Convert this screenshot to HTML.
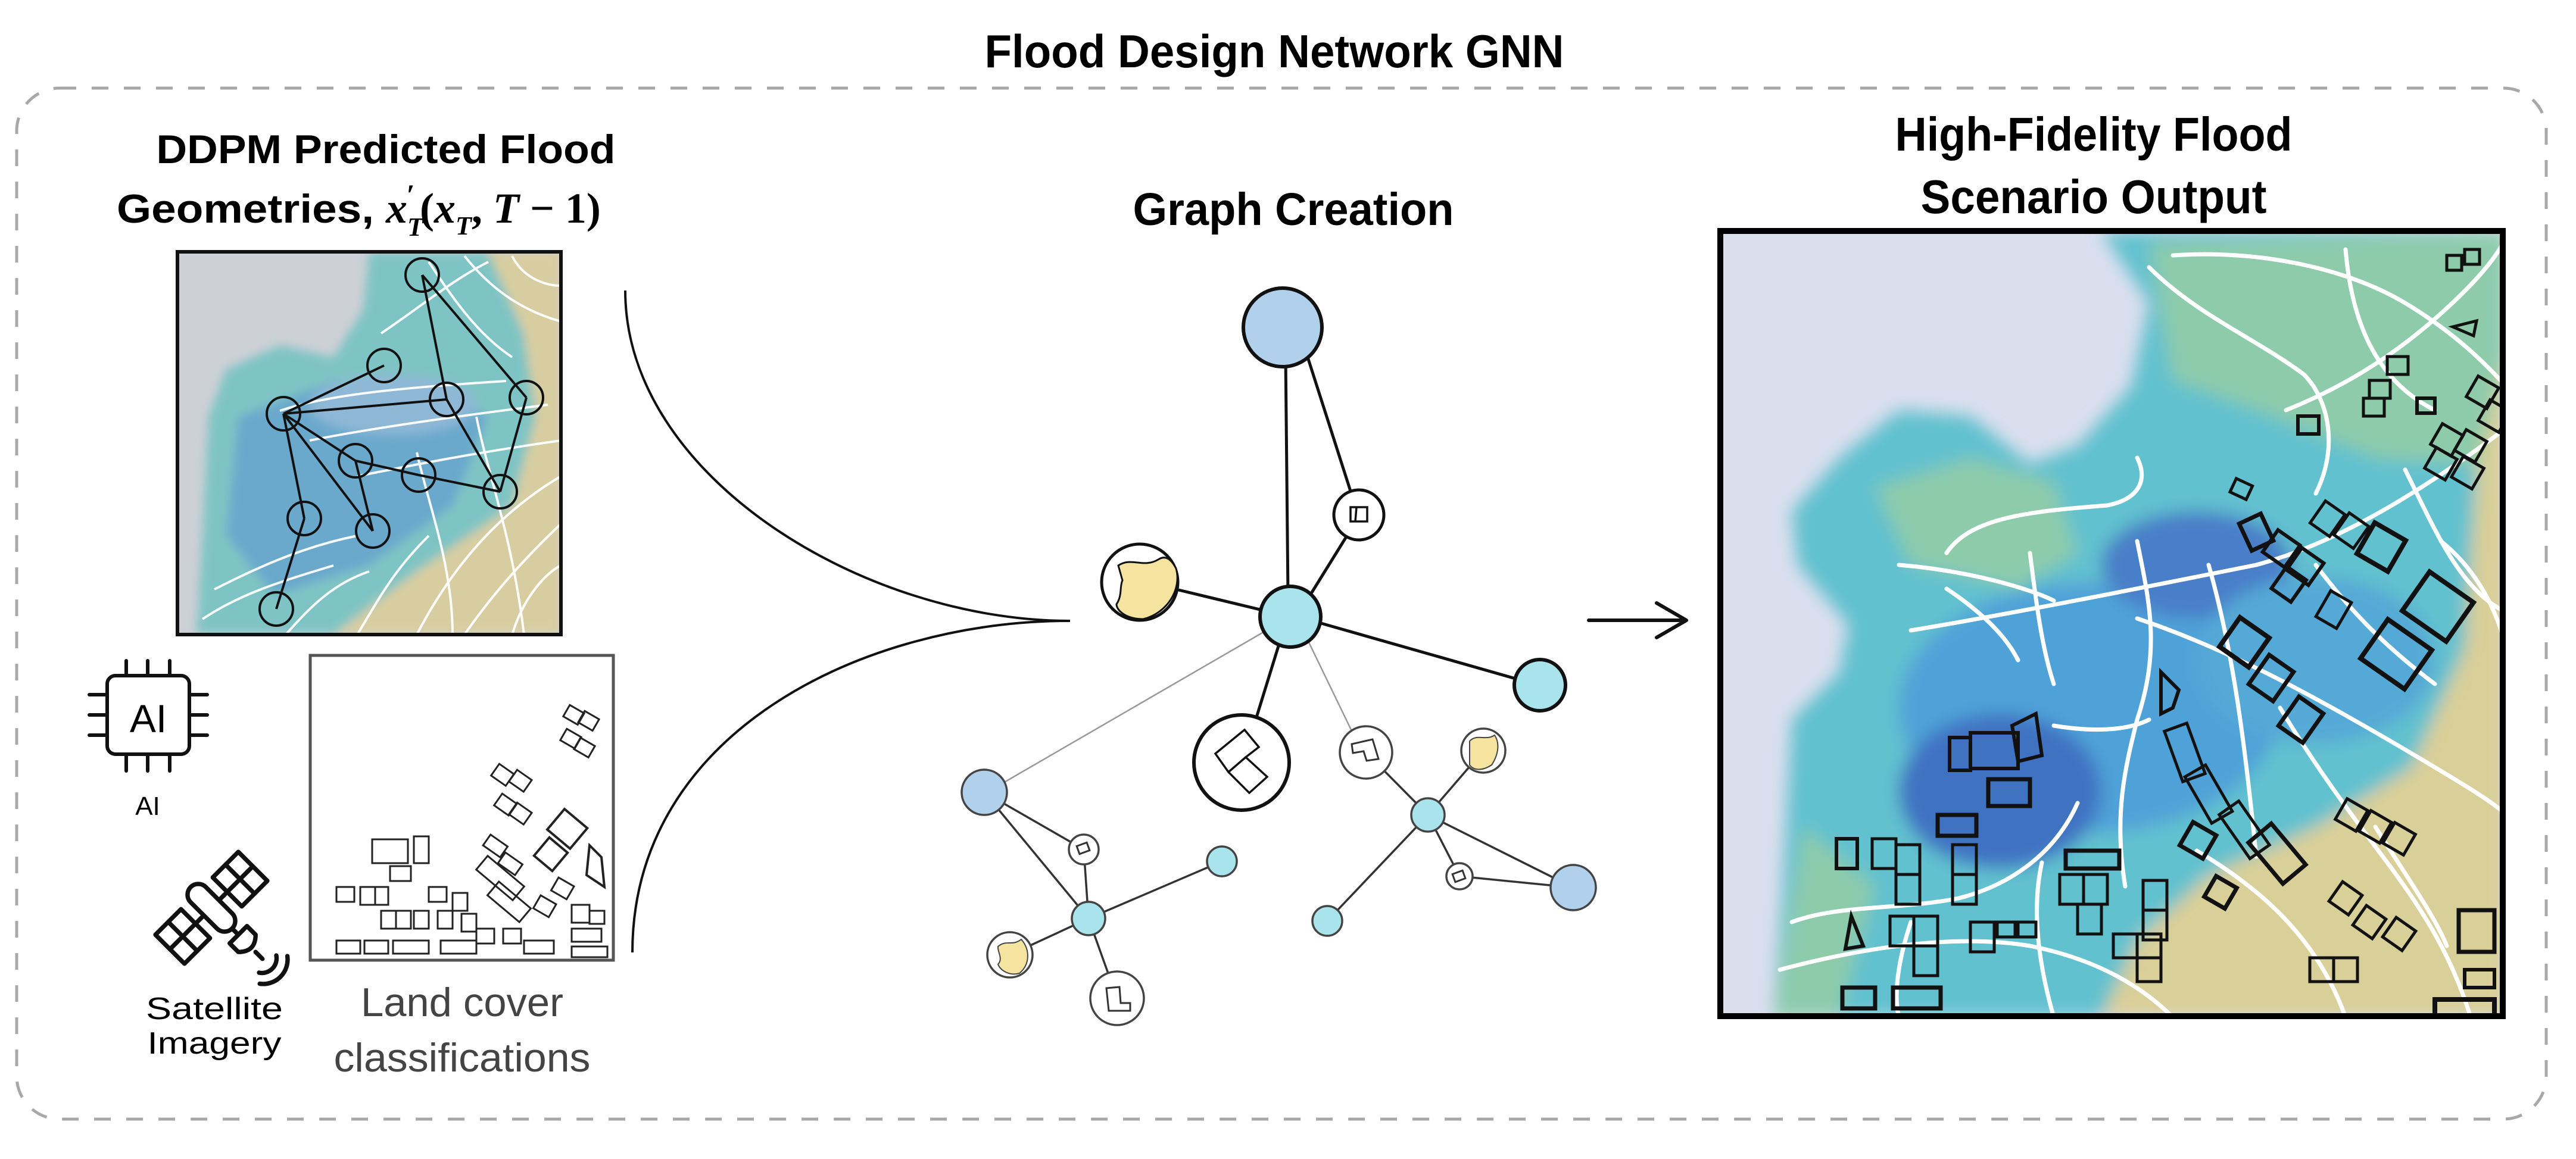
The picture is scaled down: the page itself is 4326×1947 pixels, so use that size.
<!DOCTYPE html>
<html><head><meta charset="utf-8"><style>
html,body{margin:0;padding:0;background:#fff;}
svg{display:block;}
text{font-family:"Liberation Sans",sans-serif;}
</style></head><body>
<svg width="4326" height="1947" viewBox="0 0 4326 1947" xmlns="http://www.w3.org/2000/svg">
<defs>
<filter id="bl" x="-10%" y="-10%" width="120%" height="120%"><feGaussianBlur stdDeviation="14"/></filter>
<filter id="bl2" x="-10%" y="-10%" width="120%" height="120%"><feGaussianBlur stdDeviation="8"/></filter>
<clipPath id="cl"><rect x="298" y="423" width="644" height="643"/></clipPath>
<clipPath id="cr"><rect x="2889" y="389" width="1314" height="1318"/></clipPath>
</defs>

<text x="2140" y="113" font-size="78" font-weight="bold" text-anchor="middle" textLength="973" lengthAdjust="spacingAndGlyphs">Flood Design Network GNN</text>
<rect x="28" y="148" width="4248" height="1732" rx="72" ry="72" fill="none" stroke="#a8a8a8" stroke-width="5" stroke-dasharray="28 26"/>

<text x="648" y="274" font-size="68" font-weight="bold" text-anchor="middle" textLength="771" lengthAdjust="spacingAndGlyphs">DDPM Predicted Flood</text>
<text x="196" y="374" font-size="68" font-weight="bold" textLength="432" lengthAdjust="spacingAndGlyphs">Geometries,</text>
<text x="648" y="374" font-size="72" font-weight="bold" font-style="italic" style="font-family:'Liberation Serif',serif">x<tspan font-size="44" dy="22">T</tspan><tspan font-size="50" dx="-28" dy="-52" font-style="normal">′</tspan><tspan dx="8" dy="30" font-style="normal">(</tspan>x<tspan font-size="44" dy="20">T</tspan><tspan dy="-20" font-style="normal">, </tspan>T<tspan font-style="normal"> − 1)</tspan></text>

<g clip-path="url(#cl)">
<rect x="298" y="423" width="644" height="643" fill="#cdd0d7"/>
<g filter="url(#bl2)">
<polygon points="620,423 942,423 942,1066 330,1066 340,900 350,700 380,620 470,580 560,600 610,520" fill="#7fc4c4"/>
<polygon points="400,700 560,640 700,640 820,700 760,850 620,950 460,1000 380,900" fill="#6aa9cc"/>
<polygon points="820,423 942,423 942,1066 560,1066 700,960 860,850 900,700 880,560" fill="#d8cda0"/>
<ellipse cx="660" cy="680" rx="140" ry="50" fill="#8fb7d6"/>
</g>
<g fill="none" stroke="#fff" stroke-width="4" opacity="0.95">
<path d="M470,690 C560,660 700,650 850,640"/><path d="M520,740 C620,720 760,700 920,680"/>
<path d="M600,800 C700,780 800,760 942,740"/><path d="M700,1066 C760,950 840,860 942,800"/>
<path d="M780,1066 C840,980 900,920 942,880"/><path d="M860,1066 C880,1000 920,960 942,950"/>
<path d="M720,440 C760,500 800,560 860,600"/><path d="M780,430 C820,480 870,520 942,540"/>
<path d="M860,430 C880,470 920,480 942,480"/><path d="M640,560 C700,520 760,470 820,440"/>
<path d="M340,1040 C400,1000 460,980 560,950"/><path d="M360,990 C420,960 500,920 600,900"/>
<path d="M600,1066 C640,1000 660,960 720,900"/><path d="M480,1066 C520,1020 560,980 620,960"/>
<path d="M800,700 C820,800 860,900 880,1066"/><path d="M700,760 C720,850 760,950 760,1066"/>
</g>
<g fill="none" stroke="#111" stroke-width="4">
<line x1="709" y1="462" x2="750" y2="671"/><line x1="709" y1="462" x2="884" y2="668"/>
<line x1="645" y1="614" x2="476" y2="695"/><line x1="476" y1="695" x2="750" y2="671"/>
<line x1="476" y1="695" x2="511" y2="871"/><line x1="476" y1="695" x2="626" y2="892"/>
<line x1="476" y1="695" x2="597" y2="774"/><line x1="597" y1="774" x2="626" y2="892"/>
<line x1="597" y1="774" x2="703" y2="798"/><line x1="703" y1="798" x2="840" y2="826"/>
<line x1="750" y1="671" x2="840" y2="826"/><line x1="884" y1="668" x2="840" y2="826"/>
<line x1="511" y1="871" x2="464" y2="1023"/>
<circle cx="709" cy="462" r="28"/><circle cx="645" cy="614" r="28"/><circle cx="476" cy="695" r="28"/>
<circle cx="750" cy="671" r="28"/><circle cx="884" cy="668" r="28"/><circle cx="597" cy="774" r="28"/>
<circle cx="703" cy="798" r="28"/><circle cx="840" cy="826" r="28"/><circle cx="511" cy="871" r="28"/>
<circle cx="626" cy="892" r="28"/><circle cx="464" cy="1023" r="28"/>
</g>
</g>
<rect x="298" y="423" width="644" height="643" fill="none" stroke="#111" stroke-width="6"/>

<g fill="none" stroke="#111" stroke-width="6" stroke-linecap="round">
<rect x="180" y="1135" width="138" height="132" rx="14"/>
<line x1="212" y1="1110" x2="212" y2="1135"/><line x1="248" y1="1110" x2="248" y2="1135"/><line x1="285" y1="1110" x2="285" y2="1135"/>
<line x1="212" y1="1267" x2="212" y2="1295"/><line x1="248" y1="1267" x2="248" y2="1295"/><line x1="285" y1="1267" x2="285" y2="1295"/>
<line x1="150" y1="1167" x2="180" y2="1167"/><line x1="150" y1="1201" x2="180" y2="1201"/><line x1="150" y1="1235" x2="180" y2="1235"/>
<line x1="318" y1="1167" x2="348" y2="1167"/><line x1="318" y1="1201" x2="348" y2="1201"/><line x1="318" y1="1235" x2="348" y2="1235"/>
</g>
<text x="249" y="1230" font-size="66" text-anchor="middle">AI</text>
<text x="248" y="1369" font-size="44" text-anchor="middle">AI</text>

<g transform="translate(355,1525) scale(0.82) translate(-342,-1520)">
<g fill="none" stroke="#111" stroke-width="9" stroke-linejoin="round" stroke-linecap="round" transform="rotate(45 342 1520)">
<rect x="300" y="1400" width="84" height="74"/><line x1="342" y1="1400" x2="342" y2="1474"/><line x1="300" y1="1437" x2="384" y2="1437"/>
<rect x="300" y="1566" width="84" height="74"/><line x1="342" y1="1566" x2="342" y2="1640"/><line x1="300" y1="1603" x2="384" y2="1603"/>
<line x1="342" y1="1474" x2="342" y2="1498"/><line x1="342" y1="1542" x2="342" y2="1566"/>
<rect x="282" y="1498" width="120" height="44" rx="22"/>
<line x1="402" y1="1520" x2="420" y2="1520"/>
<path d="M420,1495 L445,1495 Q470,1520 445,1545 L420,1545 Z"/>
<line x1="470" y1="1520" x2="490" y2="1520"/>
<path d="M505,1495 a30,30 0 0 1 0,50"/><path d="M522,1480 a50,50 0 0 1 0,80"/>
</g>
</g>
<text x="360" y="1712" font-size="52" text-anchor="middle" textLength="230" lengthAdjust="spacingAndGlyphs">Satellite</text>
<text x="360" y="1770" font-size="52" text-anchor="middle" textLength="225" lengthAdjust="spacingAndGlyphs">Imagery</text>

<rect x="521" y="1101" width="509" height="512" fill="#fff" stroke="#555" stroke-width="5"/>
<g fill="none" stroke="#222" stroke-width="3">
<rect x="950" y="1190" width="28" height="22" transform="rotate(30 964 1200)"/><rect x="975" y="1200" width="28" height="22" transform="rotate(30 989 1210)"/>
<rect x="945" y="1230" width="28" height="22" transform="rotate(30 959 1240)"/><rect x="968" y="1245" width="28" height="22" transform="rotate(30 982 1255)"/>
<rect x="830" y="1290" width="30" height="24" transform="rotate(35 845 1300)"/><rect x="860" y="1300" width="30" height="24" transform="rotate(35 875 1310)"/>
<rect x="835" y="1340" width="30" height="24" transform="rotate(35 850 1350)"/><rect x="860" y="1355" width="30" height="24" transform="rotate(35 875 1365)"/>
<rect x="928" y="1370" width="50" height="45" stroke-width="4" transform="rotate(40 953 1392)"/><rect x="905" y="1415" width="40" height="40" stroke-width="4" transform="rotate(40 925 1435)"/>
<polygon points="990,1420 1010,1440 1015,1490 985,1470" stroke-width="4"/>
<rect x="815" y="1410" width="35" height="22" transform="rotate(35 832 1420)"/><rect x="840" y="1440" width="35" height="22" transform="rotate(35 857 1450)"/>
<rect x="800" y="1460" width="80" height="30" transform="rotate(40 840 1475)"/><rect x="820" y="1500" width="70" height="30" transform="rotate(40 855 1515)"/>
<rect x="625" y="1410" width="60" height="40"/><rect x="695" y="1405" width="25" height="45"/><rect x="655" y="1455" width="35" height="25"/>
<rect x="565" y="1490" width="30" height="25"/><rect x="605" y="1490" width="25" height="30"/><rect x="630" y="1490" width="22" height="30"/>
<rect x="640" y="1530" width="25" height="30"/><rect x="665" y="1530" width="25" height="30"/><rect x="695" y="1530" width="25" height="30"/>
<rect x="720" y="1490" width="30" height="25"/><rect x="735" y="1530" width="25" height="30"/><rect x="760" y="1500" width="25" height="30"/>
<rect x="775" y="1535" width="25" height="30"/><rect x="800" y="1560" width="30" height="25"/><rect x="845" y="1560" width="30" height="25"/>
<rect x="565" y="1580" width="40" height="22"/><rect x="612" y="1580" width="40" height="22"/><rect x="660" y="1580" width="60" height="22"/>
<rect x="740" y="1580" width="60" height="22"/><rect x="880" y="1580" width="50" height="22"/><rect x="960" y="1560" width="50" height="22"/>
<rect x="960" y="1520" width="30" height="30"/><rect x="990" y="1530" width="25" height="22"/><rect x="960" y="1590" width="60" height="18"/>
<rect x="900" y="1510" width="30" height="25" transform="rotate(30 915 1522)"/><rect x="930" y="1480" width="30" height="25" transform="rotate(30 945 1492)"/>
</g>
<text x="776" y="1707" font-size="68" fill="#444" text-anchor="middle" textLength="340" lengthAdjust="spacingAndGlyphs">Land cover</text>
<text x="776" y="1800" font-size="68" fill="#444" text-anchor="middle" textLength="431" lengthAdjust="spacingAndGlyphs">classifications</text>

<path d="M1050,488 C1050,800 1450,1043 1797,1043" fill="none" stroke="#111" stroke-width="4"/>
<path d="M1797,1043 C1450,1043 1062,1230 1062,1600" fill="none" stroke="#111" stroke-width="4"/>

<text x="2172" y="378" font-size="77" font-weight="bold" text-anchor="middle" textLength="539" lengthAdjust="spacingAndGlyphs">Graph Creation</text>
<g stroke="#111" stroke-width="5" fill="none">
<line x1="2159" y1="600" x2="2163" y2="1000"/><line x1="2196" y1="600" x2="2268" y2="825"/>
<line x1="2262" y1="900" x2="2200" y2="1000"/><line x1="1975" y1="990" x2="2120" y2="1025"/>
<line x1="2215" y1="1046" x2="2545" y2="1140"/><line x1="2148" y1="1082" x2="2110" y2="1205"/>
</g>
<g stroke="#999" stroke-width="2.5"><line x1="2125" y1="1060" x2="1685" y2="1315"/><line x1="2196" y1="1075" x2="2270" y2="1228"/></g>
<g stroke="#333" stroke-width="3.5">
<line x1="1653" y1="1331" x2="1820" y2="1427"/><line x1="1653" y1="1331" x2="1828" y2="1543"/><line x1="1820" y1="1427" x2="1828" y2="1543"/>
<line x1="1828" y1="1543" x2="2052" y2="1447"/><line x1="1828" y1="1543" x2="1696" y2="1604"/><line x1="1828" y1="1543" x2="1876" y2="1677"/>
<line x1="2294" y1="1264" x2="2398" y2="1369"/><line x1="2491" y1="1261" x2="2398" y2="1369"/><line x1="2398" y1="1369" x2="2451" y2="1472"/>
<line x1="2451" y1="1472" x2="2642" y2="1491"/><line x1="2398" y1="1369" x2="2642" y2="1491"/><line x1="2398" y1="1369" x2="2229" y2="1547"/>
</g>
<g stroke="#111" stroke-width="6">
<circle cx="2154" cy="550" r="66" fill="#b0d0ec"/>
<circle cx="2282" cy="865" r="42" fill="#fff" stroke-width="5"/>
<circle cx="1914" cy="978" r="64" fill="#fff" stroke-width="5"/>
<circle cx="2167" cy="1036" r="51" fill="#a9e3ec"/>
<circle cx="2586" cy="1151" r="43" fill="#a9e3ec"/>
<circle cx="2085" cy="1281" r="80" fill="#fff"/>
</g>
<path d="M1878,950 C1900,935 1920,955 1945,940 C1960,930 1970,945 1975,955 C1985,990 1960,1030 1920,1040 C1890,1040 1875,1025 1875,1015 C1885,1000 1880,985 1885,975 Z" fill="#f5e3a0" stroke="#111" stroke-width="3"/>
<g fill="none" stroke="#111" stroke-width="3.5">
<rect x="2268" y="852" width="28" height="24"/><line x1="2278" y1="852" x2="2276" y2="876"/>
<polygon points="2041,1266 2090,1226 2114,1255 2092,1272 2128,1305 2098,1332 2063,1297"/><line x1="2092" y1="1272" x2="2063" y2="1297"/>
</g>
<g stroke="#444" stroke-width="3.5">
<circle cx="2294" cy="1264" r="44" fill="#fff"/>
<circle cx="2491" cy="1261" r="37" fill="#fff"/>
<circle cx="1653" cy="1331" r="38" fill="#b0d0ec"/>
<circle cx="1820" cy="1427" r="25" fill="#fff"/>
<circle cx="2052" cy="1447" r="25" fill="#a9e3ec"/>
<circle cx="1828" cy="1543" r="28" fill="#a9e3ec"/>
<circle cx="1696" cy="1604" r="38" fill="#fff"/>
<circle cx="1876" cy="1677" r="45" fill="#fff"/>
<circle cx="2398" cy="1369" r="28" fill="#a9e3ec"/>
<circle cx="2451" cy="1472" r="22" fill="#fff"/>
<circle cx="2642" cy="1491" r="38" fill="#b0d0ec"/>
<circle cx="2229" cy="1547" r="25" fill="#a9e3ec"/>
</g>
<path d="M2468,1245 C2480,1232 2495,1245 2510,1235 C2520,1250 2515,1270 2505,1285 C2490,1295 2475,1295 2468,1285 Z" fill="#f5e3a0" stroke="#444" stroke-width="2"/>
<path d="M1676,1590 C1690,1578 1700,1590 1715,1578 C1730,1595 1730,1620 1712,1635 C1695,1640 1680,1630 1676,1620 C1685,1610 1675,1600 1676,1590 Z" fill="#f5e3a0" stroke="#444" stroke-width="2"/>
<g fill="none" stroke="#333" stroke-width="3">
<polygon points="2270,1250 2305,1242 2315,1275 2295,1278 2290,1262 2272,1265"/>
<rect x="1810" y="1418" width="18" height="14" transform="rotate(-20 1819 1425)"/>
<rect x="2441" y="1465" width="18" height="14" transform="rotate(-20 2450 1472)"/>
<polygon points="1858,1660 1880,1658 1882,1685 1898,1685 1898,1698 1862,1698"/>
</g>

<g stroke="#111" stroke-width="6" fill="none" stroke-linecap="round" stroke-linejoin="round">
<line x1="2668" y1="1042" x2="2830" y2="1042"/><polyline points="2782,1013 2832,1042 2782,1071"/>
</g>

<text x="3516" y="253" font-size="80" font-weight="bold" text-anchor="middle" textLength="667" lengthAdjust="spacingAndGlyphs">High-Fidelity Flood</text>
<text x="3516" y="358" font-size="80" font-weight="bold" text-anchor="middle" textLength="581" lengthAdjust="spacingAndGlyphs">Scenario Output</text>

<g clip-path="url(#cr)">
<rect x="2889" y="389" width="1314" height="1318" fill="#dadfee"/>
<g transform="translate(2889,389)">
<g filter="url(#bl)">
<polygon points="640,0 1320,0 1320,1320 90,1320 105,1100 120,820 200,740 215,660 130,560 120,470 200,380 300,300 420,310 520,390 600,360 690,260 720,120" fill="#62c1cf"/>
<polygon points="720,20 1320,0 1320,400 1100,380 900,300 760,250" fill="#8dcbab"/>
<polygon points="260,430 420,380 560,420 600,540 500,600 320,560" fill="#8dcbab"/>
<ellipse cx="620" cy="800" rx="320" ry="210" fill="#4fa2d8"/>
<ellipse cx="470" cy="940" rx="170" ry="130" fill="#3f72c2"/>
<ellipse cx="800" cy="560" rx="160" ry="90" fill="#4a7fc8"/>
<ellipse cx="1000" cy="720" rx="200" ry="140" fill="#55a9d6"/>
<polygon points="1320,200 1320,1320 640,1320 700,1190 820,1080 1000,1000 1160,900 1250,700 1270,400" fill="#d9cf98"/>
<polygon points="140,1000 260,1100 200,1320 90,1320" fill="#8dcbab"/>
</g>
<g fill="none" stroke="#fff" stroke-width="7" stroke-linecap="round">
<path d="M380,540 C420,480 520,470 650,460 C700,450 720,420 700,380"/>
<path d="M320,670 C500,640 700,600 900,560 C1050,520 1200,420 1320,330"/>
<path d="M300,560 C420,570 520,600 560,620"/>
<path d="M520,540 C530,620 540,700 560,760"/>
<path d="M380,600 C440,640 480,680 500,720"/>
<path d="M700,520 C720,620 740,700 700,820 C680,900 660,980 680,1100"/>
<path d="M700,650 C850,700 1000,780 1200,900 C1250,930 1300,960 1320,980"/>
<path d="M820,560 C860,700 880,850 900,1050"/>
<path d="M720,60 C800,140 900,180 980,240 C1020,280 1040,360 1000,440"/>
<path d="M760,40 C900,30 1050,60 1150,120 C1250,180 1300,240 1320,260"/>
<path d="M1050,30 C1060,150 1100,250 1200,300"/>
<path d="M950,300 C1050,260 1150,200 1250,100 C1290,60 1310,30 1320,10"/>
<path d="M940,800 C1000,900 1060,980 1120,1060 C1180,1140 1230,1220 1260,1320"/>
<path d="M1000,560 C1060,640 1120,700 1200,760"/>
<path d="M1150,400 C1200,500 1240,600 1320,640"/>
<path d="M800,1040 C900,1100 1000,1180 1050,1320"/>
<path d="M600,960 C560,1050 480,1100 400,1120 C300,1140 200,1130 120,1160"/>
<path d="M100,1240 C250,1200 400,1180 520,1200 C620,1220 700,1260 760,1320"/>
<path d="M320,1160 C300,1220 290,1280 300,1320"/>
<path d="M540,1060 C520,1150 540,1250 560,1320"/>
<path d="M1100,1000 C1150,1080 1200,1150 1220,1200"/>
<path d="M1210,520 C1260,560 1300,620 1320,700"/>
<path d="M560,830 C620,840 680,840 720,820"/>
</g>
<g fill="none" stroke="#111" stroke-width="5">
<rect x="420" y="842" width="80" height="60" stroke-width="6"/><rect x="385" y="850" width="35" height="55" stroke-width="6"/>
<polygon points="490,830 530,810 540,880 500,890" stroke-width="6"/>
<rect x="450" y="920" width="70" height="45" stroke-width="7"/>
<rect x="365" y="980" width="65" height="35" stroke-width="7"/>
<rect x="195" y="1020" width="35" height="50" stroke-width="6"/>
<rect x="255" y="1020" width="40" height="50"/><rect x="295" y="1030" width="40" height="50"/><rect x="295" y="1080" width="40" height="50"/>
<rect x="390" y="1030" width="40" height="50"/><rect x="390" y="1080" width="40" height="50"/>
<rect x="580" y="1040" width="90" height="30" stroke-width="7"/>
<rect x="570" y="1080" width="40" height="50"/><rect x="610" y="1080" width="40" height="50"/><rect x="600" y="1130" width="40" height="50"/>
<rect x="710" y="1090" width="40" height="50"/><rect x="710" y="1140" width="40" height="50"/>
<polygon points="220,1150 240,1200 210,1205" stroke-width="6"/>
<rect x="285" y="1150" width="40" height="50"/><rect x="325" y="1150" width="40" height="50"/><rect x="325" y="1200" width="40" height="50"/>
<rect x="420" y="1160" width="40" height="50"/><rect x="465" y="1160" width="30" height="25"/><rect x="500" y="1160" width="30" height="25"/>
<rect x="205" y="1270" width="55" height="35" stroke-width="7"/><rect x="290" y="1270" width="80" height="35" stroke-width="7"/>
<rect x="860" y="420" width="30" height="25" transform="rotate(25 875 432)"/>
<rect x="970" y="310" width="35" height="30" stroke-width="6"/>
<rect x="1120" y="210" width="35" height="30"/><rect x="1090" y="250" width="35" height="30"/><rect x="1080" y="280" width="35" height="30"/>
<rect x="1170" y="280" width="30" height="25" stroke-width="6"/>
<rect x="1220" y="40" width="25" height="25"/><rect x="1250" y="30" width="25" height="25"/><polygon points="1230,160 1270,150 1265,175"/>
<rect x="1200" y="330" width="40" height="40" transform="rotate(30 1220 350)"/><rect x="1240" y="340" width="40" height="40" transform="rotate(30 1260 360)"/>
<rect x="1190" y="370" width="40" height="40" transform="rotate(30 1210 390)"/><rect x="1235" y="385" width="40" height="40" transform="rotate(30 1255 405)"/>
<rect x="1260" y="250" width="40" height="40" transform="rotate(30 1280 270)"/><rect x="1280" y="290" width="40" height="40" transform="rotate(30 1300 310)"/>
<rect x="880" y="480" width="40" height="50" stroke-width="7" transform="rotate(-25 900 505)"/>
<rect x="920" y="510" width="45" height="45" stroke-width="6" transform="rotate(35 942 532)"/><rect x="960" y="540" width="45" height="45" stroke-width="6" transform="rotate(35 982 562)"/>
<rect x="935" y="570" width="40" height="45" stroke-width="6" transform="rotate(35 955 592)"/>
<rect x="1000" y="460" width="40" height="45" transform="rotate(35 1020 482)"/><rect x="1040" y="480" width="40" height="45" transform="rotate(35 1060 502)"/>
<rect x="1080" y="500" width="60" height="60" stroke-width="8" transform="rotate(30 1110 530)"/>
<rect x="1010" y="610" width="40" height="50" transform="rotate(30 1030 635)"/>
<rect x="1160" y="590" width="90" height="80" stroke-width="8" transform="rotate(35 1205 630)"/>
<rect x="1090" y="670" width="90" height="80" stroke-width="8" transform="rotate(35 1135 710)"/>
<rect x="850" y="660" width="60" height="60" stroke-width="8" transform="rotate(35 880 690)"/>
<rect x="900" y="720" width="50" height="60" stroke-width="7" transform="rotate(35 925 750)"/>
<rect x="950" y="790" width="50" height="60" stroke-width="7" transform="rotate(35 975 820)"/>
<polygon points="740,740 770,770 760,800 740,810" stroke-width="6"/>
<rect x="760" y="830" width="40" height="90" transform="rotate(-20 780 875)"/>
<rect x="800" y="900" width="40" height="90" transform="rotate(-30 820 945)"/>
<rect x="860" y="960" width="40" height="90" transform="rotate(-35 880 1005)"/>
<rect x="910" y="1000" width="50" height="90" stroke-width="7" transform="rotate(-40 935 1045)"/>
<rect x="780" y="1000" width="45" height="45" stroke-width="7" transform="rotate(30 802 1022)"/>
<rect x="820" y="1090" width="40" height="40" stroke-width="7" transform="rotate(30 840 1110)"/>
<rect x="1040" y="960" width="40" height="40" transform="rotate(30 1060 980)"/><rect x="1080" y="980" width="40" height="40" transform="rotate(30 1100 1000)"/>
<rect x="1120" y="1000" width="40" height="40" transform="rotate(30 1140 1020)"/>
<rect x="1030" y="1100" width="40" height="40" transform="rotate(35 1050 1120)"/><rect x="1070" y="1140" width="40" height="40" transform="rotate(35 1090 1160)"/>
<rect x="1120" y="1160" width="40" height="40" transform="rotate(35 1140 1180)"/>
<rect x="1240" y="1140" width="60" height="70" stroke-width="7"/><rect x="1250" y="1240" width="50" height="30" stroke-width="6"/>
<rect x="660" y="1180" width="40" height="40"/><rect x="700" y="1180" width="40" height="40"/><rect x="700" y="1220" width="40" height="40"/>
<rect x="990" y="1220" width="40" height="40"/><rect x="1030" y="1220" width="40" height="40"/>
<rect x="1200" y="1290" width="100" height="30" stroke-width="8"/>
</g>
</g>
</g>
<rect x="2889" y="388" width="1314" height="1319" fill="none" stroke="#000" stroke-width="10"/>
</svg>
</body></html>
